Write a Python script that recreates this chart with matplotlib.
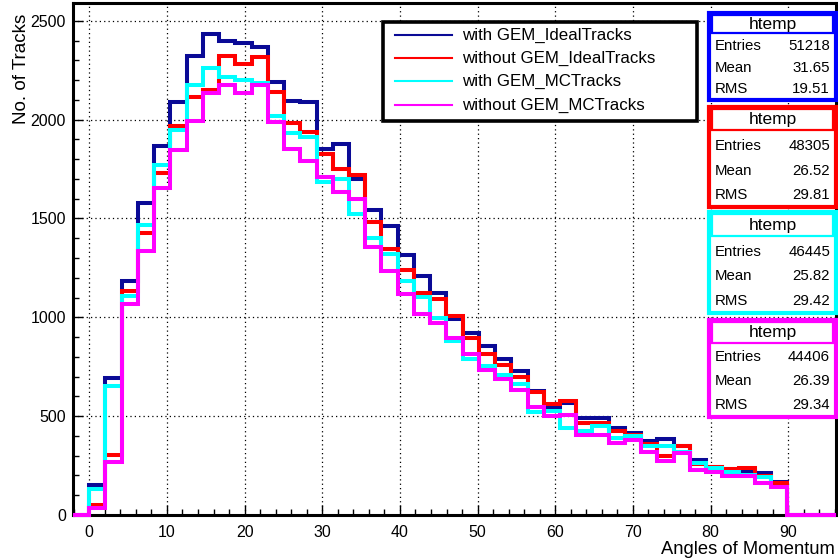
import numpy as np
import matplotlib
matplotlib.use("Agg")
import matplotlib.pyplot as plt
from matplotlib.patches import Rectangle
from matplotlib.lines import Line2D
from matplotlib.ticker import MultipleLocator

plt.rcParams["font.family"] = ["Liberation Sans", "DejaVu Sans"]

# histogram contents, bins of 2.09 degrees starting at 0
with_gem_ideal = [152, 694, 1184, 1577, 1865, 2090, 2322, 2432, 2400, 2390,
                  2365, 2191, 2096, 2088, 1853, 1875, 1698, 1545, 1460, 1313,
                  1210, 1121, 990, 922, 854, 787, 730, 625, 541, 565,
                  491, 491, 440, 415, 372, 384, 347, 279, 245, 233,
                  225, 212, 166]
without_gem_ideal = [50, 305, 1134, 1425, 1731, 1968, 2113, 2150, 2323, 2281,
                     2318, 2141, 1982, 1937, 1827, 1751, 1720, 1484, 1345, 1237,
                     1125, 1091, 1005, 897, 812, 760, 700, 621, 563, 575,
                     465, 465, 423, 406, 360, 300, 347, 257, 242, 233,
                     237, 195, 161]
with_gem_mc = [130, 651, 1108, 1467, 1768, 1949, 2174, 2260, 2216, 2200,
               2185, 2018, 1932, 1912, 1684, 1701, 1523, 1400, 1320, 1184,
               1105, 998, 878, 787, 753, 706, 665, 519, 524, 440,
               426, 448, 389, 400, 347, 347, 321, 262, 237, 215,
               203, 191, 140]
without_gem_mc = [34, 266, 1066, 1337, 1653, 1844, 1994, 2137, 2174, 2137,
                  2174, 1988, 1851, 1793, 1709, 1633, 1600, 1354, 1235, 1117,
                  1015, 970, 897, 812, 736, 688, 633, 547, 499, 508,
                  406, 406, 364, 381, 321, 271, 313, 228, 220, 198,
                  198, 161, 144]

series_names = ["with GEM_IdealTracks", "without GEM_IdealTracks",
                "with GEM_MCTracks", "without GEM_MCTracks"]
line_colors = ["#0a0a96", "#ff0000", "#00ffff", "#ff00ff"]
box_colors = ["#0000ff", "#ff0000", "#00ffff", "#ff00ff"]

stat_entries = ["51218", "48305", "46445", "44406"]
stat_means = ["31.65", "26.52", "25.82", "26.39"]
stat_rms = ["19.51", "29.81", "29.42", "29.34"]

BIN_W = 2.09
N_BINS = 47  # one empty bin below 0, 43 filled bins, three empty bins above
edges = (np.arange(N_BINS + 1) - 1) * BIN_W

W, H = 838, 559
fig = plt.figure(figsize=(W / 100, H / 100), dpi=100)


def fx(x):
    return x / W


def fy(y):
    return 1 - y / H


ax = fig.add_axes([fx(73), fy(515), fx(836) - fx(73), fy(3) - fy(515)])

for data, col in zip([with_gem_ideal, without_gem_ideal, with_gem_mc, without_gem_mc],
                     line_colors):
    vals = np.array([0] + list(data) + [0] * (N_BINS - 1 - len(data)), dtype=float)
    ax.stairs(vals, edges, color=col, lw=2.9, baseline=None, clip_on=False, zorder=3)

ax.set_xlim(edges[0], edges[-1])
ax.set_ylim(0, 2590)

ax.xaxis.set_major_locator(MultipleLocator(10))
ax.xaxis.set_minor_locator(MultipleLocator(2))
ax.yaxis.set_major_locator(MultipleLocator(500))
ax.yaxis.set_minor_locator(MultipleLocator(100))
ax.tick_params(which="both", direction="in", top=False, right=False,
               width=1.0, labelsize=11.5, colors="black")
ax.tick_params(which="major", length=7)
ax.tick_params(which="minor", length=4)
ax.tick_params(axis="x", pad=7)
ax.tick_params(axis="y", pad=5)
ax.grid(True, which="major", color="black", linestyle=(0, (1, 2.5)), lw=0.9, zorder=1)
ax.set_axisbelow(True)
for sp in ax.spines.values():
    sp.set_linewidth(2.2)
    sp.set_zorder(2)

fig.text(fx(22), fy(14), "No. of Tracks", rotation=90, ha="center", va="top", fontsize=13.5)
fig.text(fx(835), fy(549), "Angles of Momentum", ha="right", va="center", fontsize=13.2)

# legend
leg = Rectangle((fx(383), fy(121)), fx(697) - fx(383), fy(22) - fy(121),
                transform=fig.transFigure, facecolor="white", edgecolor="black",
                lw=2.6, zorder=5)
fig.add_artist(leg)
row_y = [35, 58, 81, 105]
for name, col, yy in zip(series_names, line_colors, row_y):
    fig.add_artist(Line2D([fx(395), fx(452)], [fy(yy), fy(yy)], color=col, lw=1.5,
                          transform=fig.transFigure, zorder=6))
    fig.text(fx(462), fy(yy), name, ha="left", va="center", fontsize=12.2, zorder=6)

# statistics boxes
box_tops = [13, 107, 212, 320]
box_bottoms = [100, 207, 313, 417]
title_bottoms = [33, 130, 236, 343]
row_centers = [[46, 68, 89], [146, 171, 195], [252, 276, 301], [357, 381, 405]]
x0, x1 = 709, 836
for i in range(4):
    top, bot, tb = box_tops[i], box_bottoms[i], title_bottoms[i]
    col = box_colors[i]
    fig.add_artist(Rectangle((fx(x0), fy(bot)), fx(x1) - fx(x0), fy(top) - fy(bot),
                             transform=fig.transFigure, facecolor="white",
                             edgecolor=col, lw=3.0, zorder=7))
    fig.add_artist(Rectangle((fx(x0 + 3), fy(tb)), fx(x1 - 3) - fx(x0 + 3),
                             fy(top + 2) - fy(tb), transform=fig.transFigure,
                             facecolor="white", edgecolor=col, lw=1.6, zorder=8))
    fig.text(fx((x0 + x1) / 2), fy((top + 2 + tb) / 2), "htemp", ha="center",
             va="center", fontsize=12.5, zorder=9)
    labels = ["Entries", "Mean", "RMS"]
    values = [stat_entries[i], stat_means[i], stat_rms[i]]
    for r in range(3):
        yy = row_centers[i][r]
        fig.text(fx(x0 + 6), fy(yy), labels[r], ha="left", va="center",
                 fontsize=10.8, zorder=9)
        fig.text(fx(x1 - 6), fy(yy), values[r], ha="right", va="center",
                 fontsize=10.8, zorder=9)

fig.savefig("out.png", dpi=100, facecolor="white")
